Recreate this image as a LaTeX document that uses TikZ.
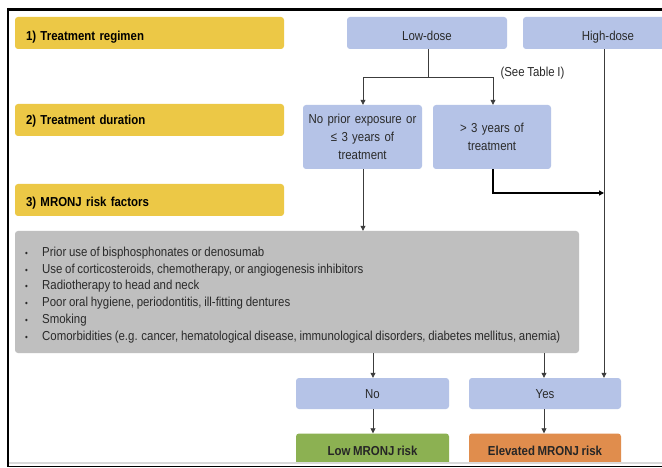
\documentclass[tikz,border=0pt]{standalone}
\usepackage{fontspec}
\setmainfont{Liberation Sans}[FakeStretch=0.88, WordSpace=0.85]
\usetikzlibrary{arrows.meta}
\definecolor{ylw}{HTML}{ECC846}
\definecolor{lav}{HTML}{B5C3E7}
\definecolor{gbox}{HTML}{BFBFBF}
\definecolor{grn}{HTML}{8CB152}
\definecolor{org}{HTML}{E08D4D}
\definecolor{ln}{HTML}{3C3C3C}
\definecolor{txt}{HTML}{2A2A2A}
\newcommand{\bul}{\makebox[17pt][l]{\fontsize{9}{9}\selectfont•}}
\begin{document}
\begin{tikzpicture}[x=1pt,y=-1pt,
  base/.style={rounded corners=3pt, inner ysep=0pt, font=\fontsize{13}{18}\selectfont, text=txt},
  stage/.style={base, fill=ylw, minimum width=269pt, minimum height=32pt, text width=247pt, inner xsep=11pt, align=left, font=\fontsize{13}{18}\selectfont\bfseries, text=black},
  opt/.style={base, fill=lav, align=center, inner xsep=2pt},
  risk/.style={base, fill=gbox, minimum width=564pt, minimum height=122pt},
  outc/.style={base, minimum width=153pt, minimum height=34pt, font=\fontsize{13}{18}\selectfont\bfseries, text=black!85},
  arr/.style={draw=ln, line width=0.8pt, -{Triangle[length=5pt,width=5pt]}},
  conn/.style={draw=ln, line width=0.8pt},
  low3/.style={text height=15.3pt, text depth=0pt},
  low2/.style={text height=13.3pt, text depth=0pt},
  mid/.style={text height=9.3pt, text depth=0pt}
]
\path[use as bounding box, clip] (0,0) rectangle (662,468);
\fill[white] (0,0) rectangle (662,468);

% stage labels
\node[stage, low3] (s1) at (149.5,33) {1) Treatment regimen};
\node[stage, mid] (s2) at (149.5,120) {2) Treatment duration};
\node[stage, low2] (s3) at (149.5,200) {3) MRONJ risk factors};

% regimen
\node[opt, low3, minimum width=160pt, minimum height=32pt] (low) at (427,33) {Low-dose};
\node[opt, low3, minimum width=170pt, minimum height=32pt] (high) at (608,33) {High-dose};

% duration
\node[opt, minimum width=119pt, minimum height=64pt, text width=115pt] (short) at (362.5,137) {No prior exposure or\\≤ 3 years of\\treatment};
\node[opt, minimum width=118pt, minimum height=64pt, text width=114pt] (long) at (492,137) {> 3 years of\\treatment};

% risk factors
\node[risk] (rf) at (297,292) {};
\node[base, anchor=west, align=left, inner xsep=0pt, font=\fontsize{13}{16.9}\selectfont] (rftext) at (25,295) {%
\bul Prior use of bisphosphonates or denosumab\\
\bul Use of corticosteroids, chemotherapy, or angiogenesis inhibitors\\
\bul Radiotherapy to head and neck\\
\bul Poor oral hygiene, periodontitis, ill-fitting dentures\\
\bul Smoking\\
\bul Comorbidities (e.g. cancer, hematological disease, immunological disorders, diabetes mellitus, anemia)};

% yes / no
\node[opt, mid, minimum width=153pt, minimum height=31pt] (no) at (372.5,393.5) {No};
\node[opt, mid, minimum width=152pt, minimum height=31pt] (yes) at (545,393.5) {Yes};

% outcomes
\node[outc, mid, fill=grn] (lowr) at (372.5,450.5) {Low MRONJ risk};
\node[outc, mid, fill=org, minimum width=152pt] (elev) at (545,450.5) {Elevated MRONJ risk};

% connectors
\coordinate (split) at (428,77);
\coordinate (hit) at (604,193);
\draw[conn] (low.south -| split) -- (split);
\draw[arr] (split) -| (short.north -| 363,0);
\draw[arr] (split) -| (long.north -| 493,0);
\node[base, anchor=west] (see) at (497,73) {(See Table I)};
\draw[arr] (high.south -| hit) -- (yes.north -| hit);
\draw[draw=black, line width=1.2pt, -{Triangle[length=5pt,width=5pt]}] (long.south -| 493,0) |- (hit);
\draw[arr] (short.south -| 363,0) -- (rf.north -| 363,0);
\draw[arr] (rf.south -| 373,0) -- (no.north -| 373,0);
\draw[arr] (rf.south -| 544,0) -- (yes.north -| 544,0);
\draw[arr] (no.south -| 373,0) -- (lowr.north -| 373,0);
\draw[arr] (yes.south -| 544,0) -- (elev.north -| 544,0);

% frame
\fill[white] (0,462) rectangle (662,468);
\draw[black!15, line width=2pt] (9,463) -- (662,463);
\draw[black, line width=1.2pt] (8,466.5) -- (662,466.5);
\draw[black, line width=2.5pt] (8,8) -- (8,467);
\draw[black, line width=3pt] (7,9.5) -- (662,9.5);
\end{tikzpicture}
\end{document}
